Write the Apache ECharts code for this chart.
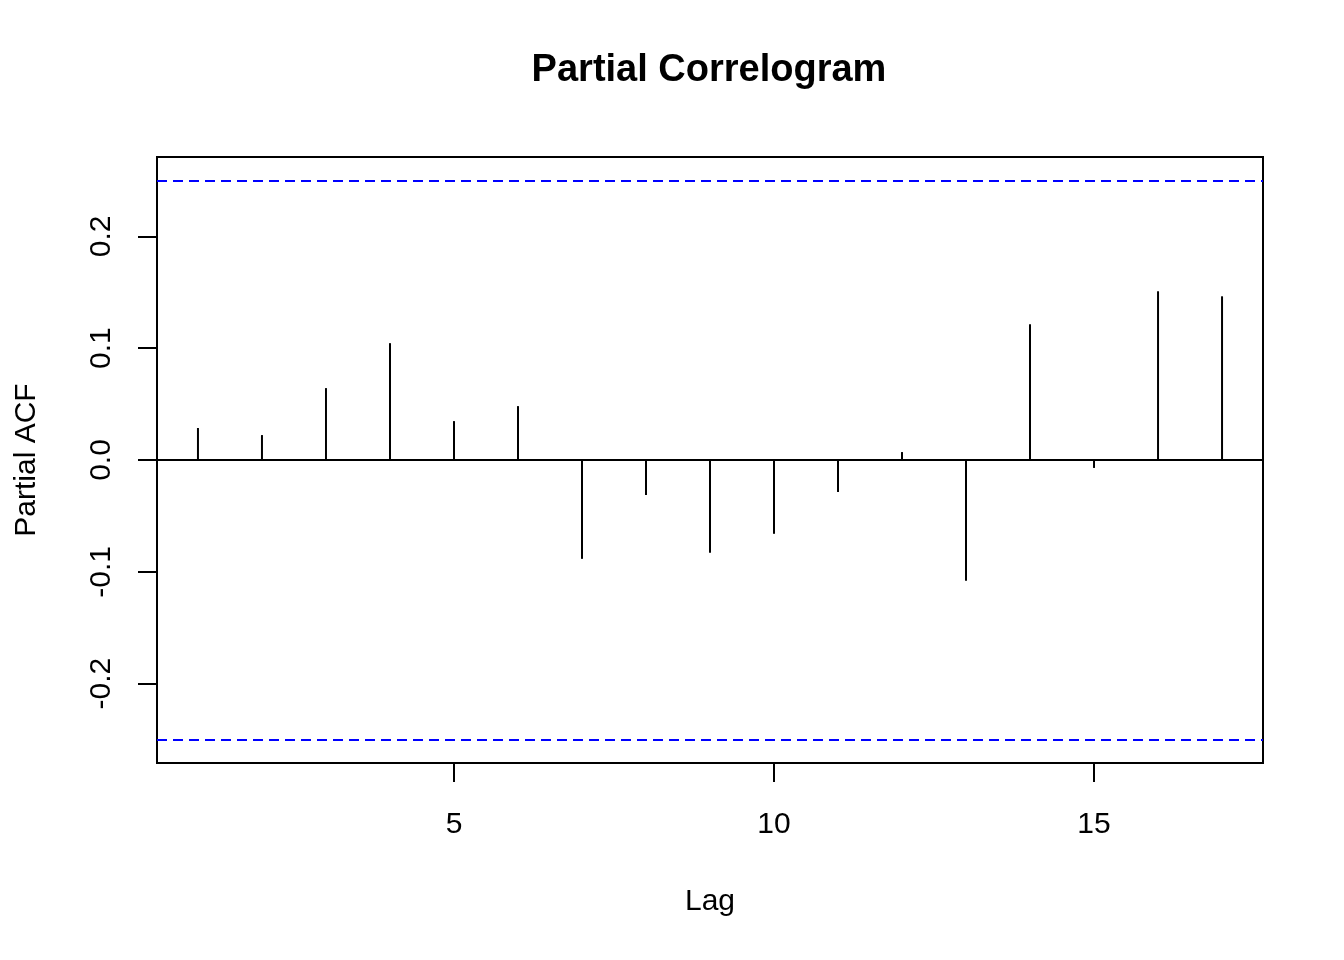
<!DOCTYPE html>
<html>
<head>
<meta charset="utf-8">
<script src="https://cdn.jsdelivr.net/npm/echarts@6/dist/echarts.min.js"></script>
<style>
html,body{margin:0;padding:0;background:#fff;}
#chart{width:1344px;height:960px;}
</style>
</head>
<body>
<div id="chart"></div>
<script>
const lags = [1,2,3,4,5,6,7,8,9,10,11,12,13,14,15,16,17];
const pacfValues = [0.0286,0.0223,0.0643,0.1045,0.0348,0.0482,-0.0884,-0.0313,-0.0830,-0.0660,-0.0286,0.0071,-0.1080,0.1214,-0.0071,0.1509,0.1464];
const confLimit = 0.2509;
const xTicks = [5,10,15];
const yTicks = [-0.2,-0.1,0.0,0.1,0.2];
const titleText = 'Partial Correlogram';
const xName = 'Lag';
const yName = 'Partial ACF';

const font = '"Liberation Sans", Arial, sans-serif';
const chart = echarts.init(document.getElementById('chart'), null, {renderer:'canvas'});
const yRange = confLimit * 1.08;
const xPad = (lags[lags.length-1] - lags[0]) * 0.04;

chart.setOption({
  backgroundColor:'#ffffff',
  animation:false,
  title:{
    text:titleText, left:704, textAlign:'center', top:47,
    textStyle:{fontFamily:font, fontSize:38, fontWeight:'bold', color:'#000'}
  },
  grid:{left:157, top:157, width:1106, height:606, show:true, borderColor:'#000', borderWidth:2, backgroundColor:'transparent'},
  xAxis:{
    type:'value', min:lags[0]-xPad, max:lags[lags.length-1]+xPad,
    name:xName, nameLocation:'middle', nameGap:124,
    nameTextStyle:{fontFamily:font, fontSize:30, color:'#000'},
    axisLine:{show:false, onZero:false},
    splitLine:{show:false},
    axisTick:{show:true, inside:false, length:19, customValues:xTicks, lineStyle:{color:'#000', width:2}},
    axisLabel:{show:true, customValues:xTicks, margin:47, fontFamily:font, fontSize:30, color:'#000'}
  },
  yAxis:{
    type:'value', min:-yRange, max:yRange,
    name:yName, nameLocation:'middle', nameGap:115, nameRotate:90,
    nameTextStyle:{fontFamily:font, fontSize:30, color:'#000'},
    axisLine:{show:false, onZero:false},
    splitLine:{show:false},
    axisTick:{show:true, inside:false, length:19, customValues:yTicks, lineStyle:{color:'#000', width:2}},
    axisLabel:{show:true, customValues:yTicks, rotate:90, margin:40, fontFamily:font, fontSize:30, color:'#000',
      formatter:function(v){return Number(v).toFixed(1);}}
  },
  series:[{
    type:'custom',
    data:lags.map((l,i)=>[l,pacfValues[i]]),
    renderItem:function(params, api){
      const p0 = api.coord([api.value(0), 0]);
      const p1 = api.coord([api.value(0), api.value(1)]);
      return {type:'line', shape:{x1:p0[0], y1:p0[1], x2:p1[0], y2:p1[1]},
        style:{stroke:'#000', lineWidth:2, lineCap:'butt'}};
    },
    markLine:{
      silent:true, symbol:['none','none'], label:{show:false},
      data:[
        {yAxis:0, lineStyle:{color:'#000', width:2, type:'solid'}},
        {yAxis:confLimit, lineStyle:{color:'#0000ff', width:2, type:[10,6]}},
        {yAxis:-confLimit, lineStyle:{color:'#0000ff', width:2, type:[10,6]}}
      ]
    }
  }]
});
</script>
</body>
</html>
